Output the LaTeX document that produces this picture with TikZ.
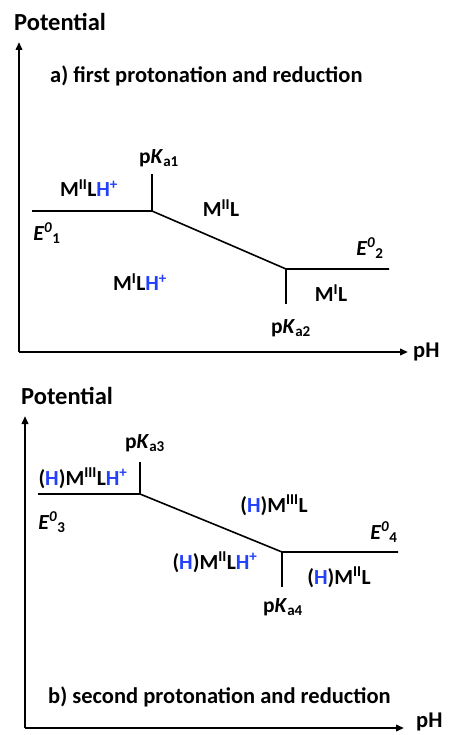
\documentclass[tikz,border=0pt]{standalone}
\usepackage{fontspec}
\setmainfont{Carlito}
\usetikzlibrary{arrows.meta}
\definecolor{hblue}{RGB}{35,65,250}
\newcommand{\Hp}{\textcolor{hblue}{H\textsuperscript{+}}}
\newcommand{\Hb}{(\textcolor{hblue}{H})}
\newcommand{\pK}[1]{p\textit{K}\textsubscript{a#1}}
\newcommand{\Ezero}[1]{\textit{E}\textsuperscript{\textit{0}}\textsubscript{#1}}
\begin{document}
\begin{tikzpicture}[x=1pt,y=-1pt,
  lbl/.style={font=\bfseries\fontsize{21.5}{24}\selectfont, inner sep=0pt},
  ttl/.style={font=\bfseries\fontsize{22.5}{26}\selectfont, inner sep=0pt, anchor=west},
  pot/.style={font=\bfseries\fontsize{24.5}{28}\selectfont, inner sep=0pt, anchor=west},
  axis/.style={line width=2pt, -{Triangle[length=8pt,width=6.5pt]}},
  curve/.style={line width=1.6pt}]
\useasboundingbox (0,0) rectangle (448,735);
% ---------- panel a ----------
\coordinate (a0) at (19,352);
\coordinate (ay) at (19,42);
\coordinate (ax) at (408,352);
\draw[axis] (a0) -- (ay);
\draw[axis] (a0) -- (ax);
\node[pot] (potA) at (14,22) {Potential};
\node[ttl] (pHA) at (413,352) {pH};
\node[ttl] (titleA) at (50,76) {a) first protonation and reduction};
\coordinate (a1) at (32,211);
\coordinate (a2) at (152,211);
\coordinate (a2t) at (152,174);
\coordinate (a3) at (286,269);
\coordinate (a3b) at (286,304);
\coordinate (a4) at (389,269);
\draw[curve] (a1) -- (a2) -- (a3) -- (a4);
\draw[curve] (a2) -- (a2t);
\draw[curve] (a3) -- (a3b);
\node[lbl] (pka1) at (159,158) {\pK{1}};
\node[lbl] (m2lh) at (89,188) {M\textsuperscript{II}L\Hp};
\node[lbl] (m2l) at (221,208) {M\textsuperscript{II}L};
\node[lbl] (e1) at (47,233) {\Ezero{1}};
\node[lbl] (e2) at (370,248) {\Ezero{2}};
\node[lbl] (m1lh) at (140,282) {M\textsuperscript{I}L\Hp};
\node[lbl] (m1l) at (331,293) {M\textsuperscript{I}L};
\node[lbl] (pka2) at (291,328) {\pK{2}};
% ---------- panel b ----------
\coordinate (b0) at (25,728);
\coordinate (by) at (25,416);
\coordinate (bx) at (404,728);
\draw[axis] (b0) -- (by);
\draw[axis] (b0) -- (bx);
\node[pot] (potB) at (21,396) {Potential};
\node[ttl] (pHB) at (416,722) {pH};
\node[ttl] (titleB) at (48,697) {b) second protonation and reduction};
\coordinate (b1) at (38,494);
\coordinate (b2) at (140,494);
\coordinate (b2t) at (140,462);
\coordinate (b3) at (282,552);
\coordinate (b3b) at (282,587);
\coordinate (b4) at (398,552);
\draw[curve] (b1) -- (b2) -- (b3) -- (b4);
\draw[curve] (b2) -- (b2t);
\draw[curve] (b3) -- (b3b);
\node[lbl] (pka3) at (145,443) {\pK{3}};
\node[lbl] (h3lh) at (83,478) {\Hb M\textsuperscript{III}L\Hp};
\node[lbl] (h3l) at (274,505) {\Hb M\textsuperscript{III}L};
\node[lbl] (e3) at (52,522) {\Ezero{3}};
\node[lbl] (e4) at (384,532) {\Ezero{4}};
\node[lbl] (h2lh) at (215,562) {\Hb M\textsuperscript{II}L\Hp};
\node[lbl] (h2l) at (339,577) {\Hb M\textsuperscript{II}L};
\node[lbl] (pka4) at (283,607) {\pK{4}};
\end{tikzpicture}
\end{document}
